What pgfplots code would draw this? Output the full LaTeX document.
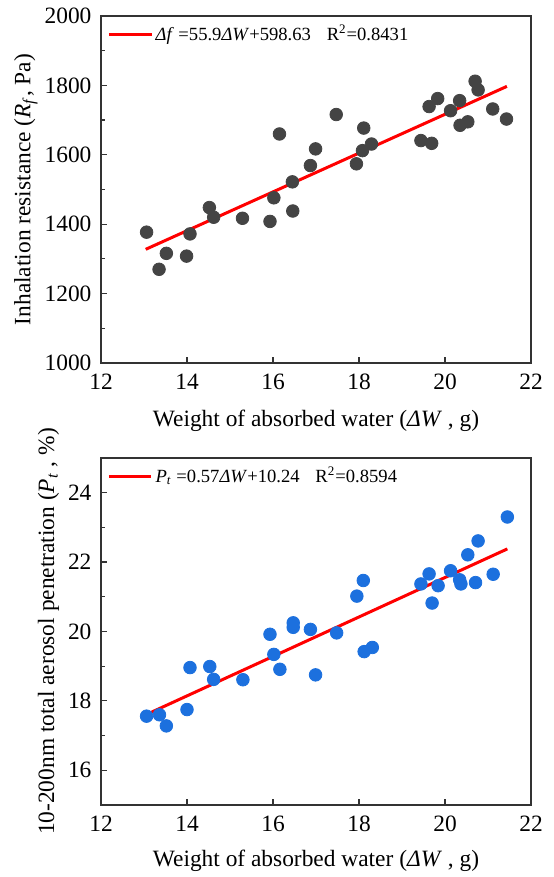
\documentclass[border=0pt]{standalone}
\usepackage{fontspec}
\setmainfont{Liberation Serif}
\usepackage{pgfplots}
\pgfplotsset{compat=1.18}

\definecolor{dotgray}{RGB}{68,68,68}
\definecolor{dotblue}{RGB}{28,112,222}

% shared look of both panels
\pgfplotsset{
  panel/.style={
    scale only axis, width=215pt, height=173.5pt,
    xmin=12, xmax=22, xtick={12,14,...,22},
    tick pos=left, tick align=inside,
    major tick length=3pt, minor tick length=2pt,
    minor y tick num=1,
    axis line style={black!80, line width=0.6pt},
    every tick/.style={black!80, line width=0.6pt},
    /pgf/number format/assume math mode=true,
    /pgf/number format/1000 sep={},
    tick label style={font=\fontsize{11.7}{14}\selectfont},
    xticklabel style={yshift=-2pt},
    yticklabel style={xshift=-1.25pt},
    label style={font=\fontsize{11.7}{14}\selectfont},
    xlabel={Weight of absorbed water (\textit{ΔW} , g)},
    legend style={draw=none, fill=none, at={(axis description cs:0,1)},
      anchor=north west, font=\fontsize{9.3}{11}\selectfont,
      nodes={inner xsep=1.3pt}},
    legend image code/.code={\draw[#1] (0pt,0pt) -- (21.3pt,0pt);},
  }
}

\begin{document}
\begin{tikzpicture}
\path[use as bounding box] (0,0) rectangle (276.5pt,438.5pt);

\begin{axis}[panel, at={(50.5pt,257pt)}, anchor=south west,
  ymin=1000, ymax=2000, ytick={1000,1200,...,2000},
  xlabel style={at={(axis description cs:0.5,0)}, anchor=base, yshift=-31.8pt},
  ylabel={Inhalation resistance (\textit{R}\textsubscript{\textit{f}}, Pa)},
  ylabel style={at={(axis description cs:-0.164,0.5)}, anchor=base}]
\addplot[only marks, mark=*, mark size=3.15pt, mark options={draw=dotgray, fill=dotgray}, forget plot] coordinates {
  (13.06,1377) (13.35,1270) (13.52,1316) (13.99,1308) (14.07,1372)
  (14.52,1448) (14.62,1420) (15.29,1417) (15.93,1408) (16.02,1476)
  (16.15,1660) (16.46,1438) (16.45,1522) (16.87,1569) (16.99,1617)
  (17.47,1716) (17.94,1574) (18.08,1612) (18.11,1677) (18.29,1631)
  (19.44,1641) (19.63,1739) (19.69,1633) (19.83,1762) (20.13,1727)
  (20.34,1756) (20.35,1685) (20.53,1695) (20.70,1812) (20.77,1787)
  (21.11,1732) (21.43,1703)
};
\addplot[red, line width=1.5pt] coordinates {(13.04,1327.6) (21.44,1797.2)};
\addlegendentry{\textit{Δf} =55.9\textit{ΔW}+598.63\hspace{0.85em}R\textsuperscript{2}=0.8431}
\end{axis}

\begin{axis}[panel, at={(50.5pt,36pt)}, anchor=south west,
  ymin=15, ymax=25, ytick={16,18,...,24},
  xlabel style={at={(axis description cs:0.5,0)}, anchor=base, yshift=-30.8pt},
  ylabel={10-200nm total aerosol penetration (\textit{P}\textsubscript{\textit{t}} , \%)},
  ylabel style={at={(axis description cs:-0.109,0.5)}, anchor=base}]
\addplot[only marks, mark=*, mark size=3.15pt, mark options={draw=dotblue, fill=dotblue}, forget plot] coordinates {
  (13.06,17.56) (13.36,17.60) (13.52,17.28) (14.00,17.75) (14.07,18.96)
  (14.53,18.99) (14.62,18.62) (15.30,18.61) (15.93,19.92) (16.02,19.34)
  (16.16,18.91) (16.47,20.25) (16.47,20.12) (16.87,20.06) (16.99,18.75)
  (17.48,19.96) (17.95,21.02) (18.10,21.47) (18.12,19.42) (18.31,19.54)
  (19.44,21.37) (19.63,21.66) (19.70,20.82) (19.84,21.32) (20.13,21.75)
  (20.34,21.49) (20.37,21.37) (20.53,22.21) (20.71,21.41) (20.77,22.61)
  (21.12,21.65) (21.45,23.30)
};
\addplot[red, line width=1.5pt] coordinates {(13.06,17.61) (21.45,22.38)};
\addlegendentry{\textit{P}\textsubscript{\textit{t}} =0.57\textit{ΔW}+10.24\hspace{0.85em}R\textsuperscript{2}=0.8594}
\end{axis}
\end{tikzpicture}
\end{document}
